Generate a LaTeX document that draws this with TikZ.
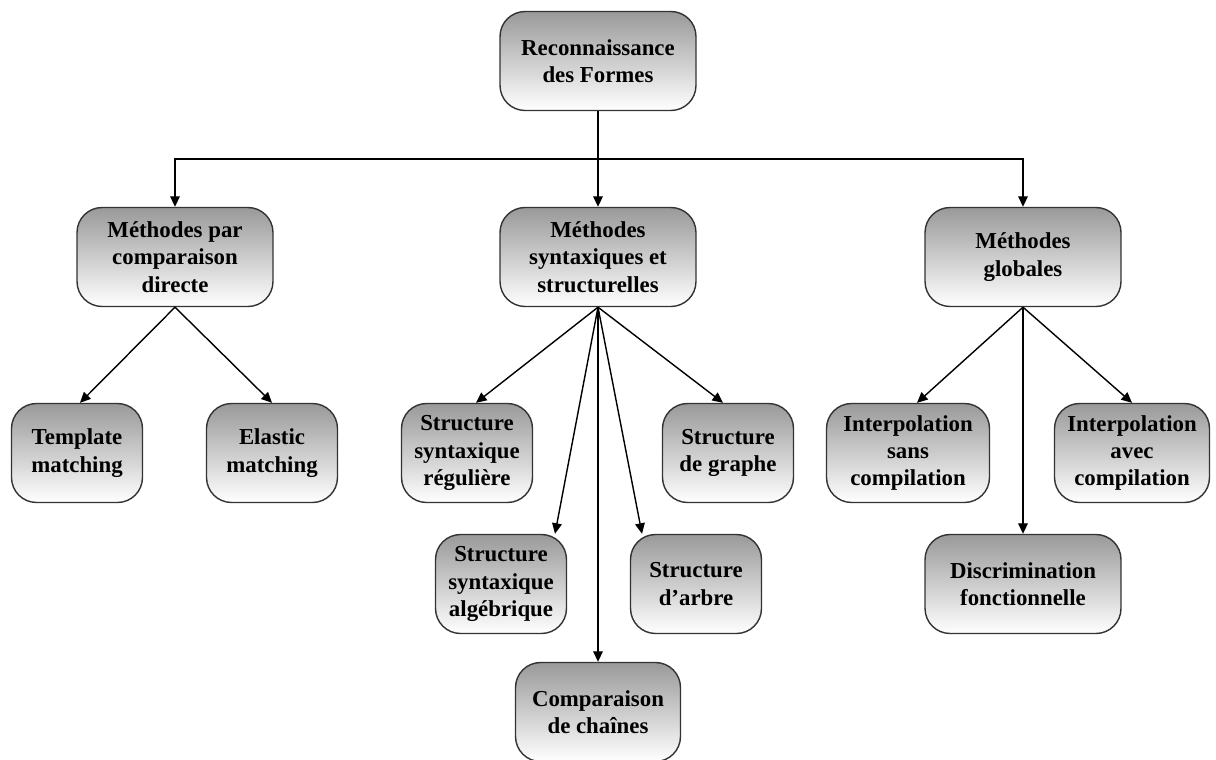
\documentclass[tikz,border=0pt]{standalone}
\usepackage{fontspec}
\setmainfont{Liberation Serif}
\usetikzlibrary{arrows.meta}

\begin{document}
\begin{tikzpicture}[x=0.02cm,y=-0.02cm,
  box/.style={draw=black!80, line width=0.8pt, rounded corners=0.5cm,
    top color=black!40, bottom color=white, align=center,
    font=\fontsize{13}{15.6}\selectfont\bfseries, inner sep=0pt},
  wide/.style={box, minimum width=3.92cm, minimum height=1.98cm},
  small/.style={box, minimum width=2.62cm, minimum height=1.98cm},
  link/.style={line width=0.8pt, -{Triangle[length=6pt,width=5.5pt]}}]

\useasboundingbox (0,0) rectangle (1216,760);

\node[wide] (root) at (598,61) {Reconnaissance\\des Formes};

\node[wide] (direct) at (175,257) {Méthodes par\\comparaison\\directe};
\node[wide] (synt) at (598,257) {Méthodes\\syntaxiques et\\structurelles};
\node[wide] (glob) at (1023,257) {Méthodes\\globales};

\node[small] (tmpl) at (77,453) {Template\\matching};
\node[small] (elas) at (272,453) {Elastic\\matching};

\node[small] (reg) at (467,453) {Structure\\syntaxique\\régulière};
\node[small] (graph) at (728,453) {Structure\\de graphe};
\node[small] (alg) at (501,584) {Structure\\syntaxique\\algébrique};
\node[small] (tree) at (696,584) {Structure\\d’arbre};
\node[small, minimum width=3.3cm] (chain) at (598,712) {Comparaison\\de chaînes};

\node[small, minimum width=3.26cm] (sans) at (908,453) {Interpolation\\sans\\compilation};
\node[small, minimum width=3.1cm] (avec) at (1132,453) {Interpolation\\avec\\compilation};
\node[wide] (discr) at (1023,584) {Discrimination\\fonctionnelle};

\coordinate (bar) at (598,159);

\draw[line width=0.8pt] (root.south) -- (bar);
\draw[link] (bar) -| (direct.north);
\draw[link] (bar) -- (synt.north);
\draw[link] (bar) -| (glob.north);

\draw[link] (direct.south) -- ([xshift=0.06cm]tmpl.north);
\draw[link] (direct.south) -- (elas.north);

\draw[link] (synt.south) -- ([xshift=0.18cm]reg.north);
\draw[link] (synt.south) -- ([xshift=-0.1cm]graph.north);
\draw[link] (synt.south) -- ([xshift=1.08cm]alg.north);
\draw[link] (synt.south) -- ([xshift=-1.08cm]tree.north);
\draw[link] (synt.south) -- (chain.north);

\draw[link] (glob.south) -- ([xshift=0.18cm]sans.north);
\draw[link] (glob.south) -- (avec.north);
\draw[link] (glob.south) -- (discr.north);

\end{tikzpicture}
\end{document}
